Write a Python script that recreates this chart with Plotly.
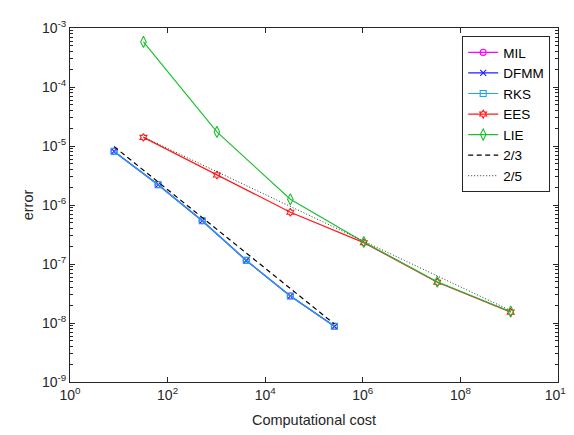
import plotly.graph_objects as go

# ---- data ----
cost_a = [8, 64, 512, 4096, 32768, 262144]
cost_b = [32, 1024, 32768, 1048576, 33554432, 1073741824]

err_mil = [8.1e-6, 2.2e-6, 5.4e-7, 1.15e-7, 2.86e-8, 8.8e-9]
err_dfmm = [8.1e-6, 2.2e-6, 5.4e-7, 1.15e-7, 2.86e-8, 8.8e-9]
err_rks = [8.1e-6, 2.2e-6, 5.4e-7, 1.15e-7, 2.86e-8, 8.8e-9]
err_ees = [1.40e-5, 3.22e-6, 7.55e-7, 2.30e-7, 4.9e-8, 1.53e-8]
err_lie = [5.8e-4, 1.73e-5, 1.25e-6, 2.36e-7, 5.0e-8, 1.56e-8]
ref_23 = [9.8e-6, 2.45e-6, 6.1e-7, 1.53e-7, 3.8e-8, 9.6e-9]
ref_25 = [1.42e-5, 3.66e-6, 9.4e-7, 2.43e-7, 6.3e-8, 1.62e-8]

x_tickvals = [1e0, 1e2, 1e4, 1e6, 1e8, 1e10]
x_ticktext = ["10<sup>0</sup>", "10<sup>2</sup>", "10<sup>4</sup>", "10<sup>6</sup>",
              "10<sup>8</sup>", "10<sup>10</sup>"]
y_tickvals = [1e-9, 1e-8, 1e-7, 1e-6, 1e-5, 1e-4, 1e-3]
y_ticktext = ["10<sup>-9</sup>", "10<sup>-8</sup>", "10<sup>-7</sup>", "10<sup>-6</sup>",
              "10<sup>-5</sup>", "10<sup>-4</sup>", "10<sup>-3</sup>"]
y_minor_vals = [m * 10.0 ** e for e in range(-9, -3) for m in range(2, 10)]

FONT = "Liberation Sans, Arial, Helvetica, sans-serif"
AX = "#262626"

fig = go.Figure()

def add(name, x, y, color, symbol=None, dash="solid", width=1.2, msize=7):
    mode = "lines+markers" if symbol else "lines"
    kw = dict(x=x, y=y, name=name, mode=mode,
              line=dict(color=color, width=width, dash=dash))
    if symbol:
        kw["marker"] = dict(symbol=symbol, size=msize, color=color,
                            line=dict(color=color, width=1.1))
    fig.add_trace(go.Scatter(**kw))

add("MIL", cost_a, err_mil, "#FF00FF", "circle-open", msize=6)
add("DFMM", cost_a, err_dfmm, "#1F1FFF", "x-thin-open", msize=6)
add("RKS", cost_a, err_rks, "#1AA6F0", "square-open", msize=6)
add("EES", cost_b, err_ees, "#FF1A1A", "hexagram-open", msize=6)
add("LIE", cost_b, err_lie, "#1EBE32", "diamond-tall-open", msize=8)
add("2/3", cost_a, ref_23, "#000000", dash="5px,3.5px", width=1.2)
add("2/5", cost_b, ref_25, "#333333", dash="1px,2px", width=1)

fig.update_layout(
    width=574, height=435,
    margin=dict(l=62, r=16, t=10, b=61),
    paper_bgcolor="white", plot_bgcolor="white",
    font=dict(family=FONT, size=14, color=AX),
    showlegend=True,
    legend=dict(x=0.984, y=0.977, xanchor="right", yanchor="top",
                bgcolor="white", bordercolor=AX, borderwidth=1,
                font=dict(family=FONT, size=13.5, color="#000000"),
                itemwidth=30, tracegroupgap=0),
)

fig.update_xaxes(
    type="log", range=[0, 10],
    tickmode="array", tickvals=x_tickvals, ticktext=x_ticktext,
    ticks="inside", ticklen=5, tickcolor=AX, tickwidth=1,
    showline=True, linecolor=AX, linewidth=1, mirror="allticks",
    showgrid=False, zeroline=False,
    tickfont=dict(family=FONT, size=14, color=AX),
    title=dict(text="Computational cost", font=dict(family=FONT, size=14.5, color=AX),
               standoff=13),
)
fig.update_yaxes(
    type="log", range=[-9, -3],
    tickmode="array", tickvals=y_tickvals, ticktext=y_ticktext,
    ticks="inside", ticklen=5, tickcolor=AX, tickwidth=1,
    showline=True, linecolor=AX, linewidth=1, mirror="allticks",
    showgrid=False, zeroline=False,
    minor=dict(tickmode="array", tickvals=y_minor_vals, ticks="inside",
               ticklen=3, tickcolor=AX, tickwidth=1, showgrid=False),
    tickfont=dict(family=FONT, size=14, color=AX),
    title=dict(text="error", font=dict(family=FONT, size=14.5, color=AX), standoff=4),
)

fig.write_html("out.html")
